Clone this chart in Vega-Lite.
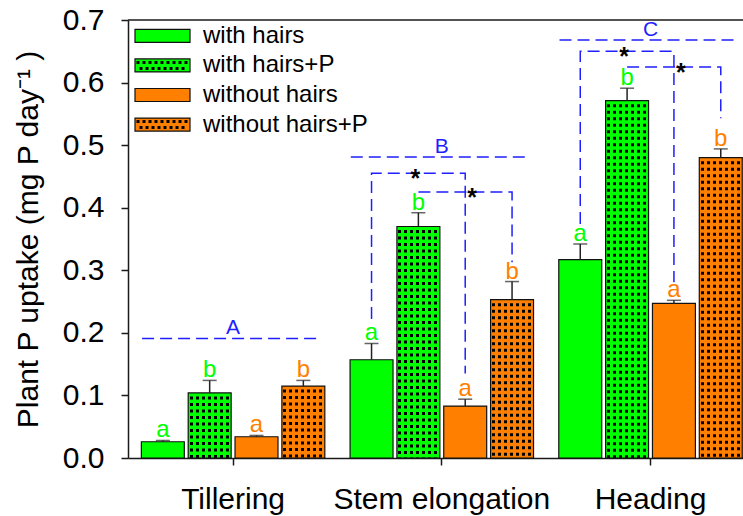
{
  "$schema": "https://vega.github.io/schema/vega-lite/v6.json",
  "autosize": {"type": "none"},
  "width": 615,
  "height": 438,
  "padding": {"left": 128, "top": 20, "right": 0, "bottom": 58},
  "background": "white",
  "config": {
    "font": "Liberation Sans",
    "view": {"stroke": null},
    "axis": {"labelFont": "Liberation Sans", "titleFont": "Liberation Sans", "labelColor": "#000", "titleColor": "#000", "domainColor": "#1a1a1a", "tickColor": "#1a1a1a", "domainWidth": 1.5, "tickWidth": 1.5, "grid": false},
    "legend": {"labelFont": "Liberation Sans"},
    "text": {"font": "Liberation Sans"}
  },
  "datasets": {
    "bars": [
      {"group": "Tillering", "treatment": "with hairs", "value": 0.026, "upper": 0.028, "letter": "a"},
      {"group": "Tillering", "treatment": "with hairs+P", "value": 0.104, "upper": 0.124, "letter": "b"},
      {"group": "Tillering", "treatment": "without hairs", "value": 0.034, "upper": 0.036, "letter": "a"},
      {"group": "Tillering", "treatment": "without hairs+P", "value": 0.115, "upper": 0.124, "letter": "b"},
      {"group": "Stem elongation", "treatment": "with hairs", "value": 0.157, "upper": 0.183, "letter": "a"},
      {"group": "Stem elongation", "treatment": "with hairs+P", "value": 0.370, "upper": 0.392, "letter": "b"},
      {"group": "Stem elongation", "treatment": "without hairs", "value": 0.083, "upper": 0.094, "letter": "a"},
      {"group": "Stem elongation", "treatment": "without hairs+P", "value": 0.253, "upper": 0.282, "letter": "b"},
      {"group": "Heading", "treatment": "with hairs", "value": 0.317, "upper": 0.342, "letter": "a"},
      {"group": "Heading", "treatment": "with hairs+P", "value": 0.571, "upper": 0.591, "letter": "b"},
      {"group": "Heading", "treatment": "without hairs", "value": 0.247, "upper": 0.252, "letter": "a"},
      {"group": "Heading", "treatment": "without hairs+P", "value": 0.480, "upper": 0.494, "letter": "b"}
    ],
    "sig": [
      {"group": "Tillering", "level": 0.191, "label": "A"},
      {"group": "Stem elongation", "level": 0.481, "label": "B"},
      {"group": "Heading", "level": 0.668, "label": "C"}
    ],
    "brackets": [
      {"id": "S1", "group": "Stem elongation", "treatment": "with hairs", "yv": 0.222, "k": 1},
      {"id": "S1", "group": "Stem elongation", "treatment": "with hairs", "yv": 0.455, "k": 2},
      {"id": "S1", "group": "Stem elongation", "treatment": "without hairs", "yv": 0.455, "k": 3},
      {"id": "S1", "group": "Stem elongation", "treatment": "without hairs", "yv": 0.135, "k": 4},
      {"id": "S2", "group": "Stem elongation", "treatment": "with hairs+P", "yv": 0.425, "k": 1},
      {"id": "S2", "group": "Stem elongation", "treatment": "without hairs+P", "yv": 0.425, "k": 2},
      {"id": "S2", "group": "Stem elongation", "treatment": "without hairs+P", "yv": 0.313, "k": 3},
      {"id": "H1", "group": "Heading", "treatment": "with hairs", "yv": 0.374, "k": 1},
      {"id": "H1", "group": "Heading", "treatment": "with hairs", "yv": 0.650, "k": 2},
      {"id": "H1", "group": "Heading", "treatment": "without hairs", "yv": 0.650, "k": 3},
      {"id": "H1", "group": "Heading", "treatment": "without hairs", "yv": 0.281, "k": 4},
      {"id": "H2", "group": "Heading", "treatment": "with hairs+P", "yv": 0.625, "k": 1},
      {"id": "H2", "group": "Heading", "treatment": "without hairs+P", "yv": 0.625, "k": 2},
      {"id": "H2", "group": "Heading", "treatment": "without hairs+P", "yv": 0.543, "k": 3}
    ],
    "stars": [
      {"id": "1", "group": "Stem elongation", "treatment": "with hairs+P", "yv": 0.455, "s": "*"},
      {"id": "2", "group": "Stem elongation", "treatment": "without hairs", "yv": 0.425, "s": "*"},
      {"id": "1", "group": "Heading", "treatment": "with hairs+P", "yv": 0.650, "s": "*"},
      {"id": "2", "group": "Heading", "treatment": "without hairs", "yv": 0.625, "s": "*"}
    ],
    "legkeys": [{"key": "k1"}, {"key": "k2"}, {"key": "k3"}, {"key": "k4"}]
  },
  "layer": [
    {
      "data": {"name": "bars"},
      "mark": {"type": "bar"},
      "encoding": {
        "x": {"field": "group", "type": "nominal", "sort": null,
          "scale": {"type": "band", "domain": ["Tillering", "Stem elongation", "Heading"], "range": [0, 627.6], "paddingInner": 0.121, "paddingOuter": 0.064},
          "axis": {"title": null, "labelAngle": 0, "labelFontSize": 30, "tickSize": 7, "labelPadding": 19, "labelLimit": 400}},
        "xOffset": {"field": "treatment", "type": "nominal",
          "scale": {"domain": ["with hairs", "with hairs+P", "without hairs", "without hairs+P"], "paddingInner": 0.083, "paddingOuter": 0}},
        "y": {"field": "value", "type": "quantitative",
          "scale": {"domain": [0, 0.7], "nice": false},
          "axis": {"title": "Plant P uptake (mg P day⁻¹ )", "titleFontSize": 30, "titleFontWeight": "normal", "titlePadding": 19, "labelFontSize": 30, "tickSize": 7, "labelPadding": 17, "values": [0, 0.1, 0.2, 0.3, 0.4, 0.5, 0.6, 0.7], "format": ".1f"}},
        "fill": {"field": "treatment", "type": "nominal",
          "scale": {"domain": ["with hairs", "with hairs+P", "without hairs", "without hairs+P"], "range": ["#00ff00", "#00ff00", "#ff8000", "#ff8000"]},
          "legend": {"orient": "none", "legendX": 21.5, "legendY": 2.8, "title": null, "symbolType": "M-2.292,-0.542H2.292V0.542H-2.292Z", "symbolSize": 576, "labelFontSize": 24, "labelOffset": 27.5, "rowPadding": 4.6, "padding": 0, "symbolStrokeColor": "#111", "symbolStrokeWidth": 1.2, "zindex": 1, "labelColor": "#000", "labelLimit": 400,
            "encode": {"symbols": {"update": {"stroke": {"value": "#111"}, "strokeWidth": {"value": 1.2}}}}},
          "condition": [
            {"test": "datum.treatment === 'with hairs+P'", "value": {"gradient": "linear", "x1": 0, "y1": 0, "x2": 1, "y2": 0, "stops": [
              {"offset": 0, "color": "#00ff00"}, {"offset": 0.0349, "color": "#00ff00"}, {"offset": 0.0349, "color": "#000000"}, {"offset": 0.1048, "color": "#000000"},
              {"offset": 0.1048, "color": "#00ff00"}, {"offset": 0.1746, "color": "#00ff00"}, {"offset": 0.1746, "color": "#000000"}, {"offset": 0.2445, "color": "#000000"},
              {"offset": 0.2445, "color": "#00ff00"}, {"offset": 0.3143, "color": "#00ff00"}, {"offset": 0.3143, "color": "#000000"}, {"offset": 0.3842, "color": "#000000"},
              {"offset": 0.3842, "color": "#00ff00"}, {"offset": 0.4540, "color": "#00ff00"}, {"offset": 0.4540, "color": "#000000"}, {"offset": 0.5239, "color": "#000000"},
              {"offset": 0.5239, "color": "#00ff00"}, {"offset": 0.5937, "color": "#00ff00"}, {"offset": 0.5937, "color": "#000000"}, {"offset": 0.6636, "color": "#000000"},
              {"offset": 0.6636, "color": "#00ff00"}, {"offset": 0.7334, "color": "#00ff00"}, {"offset": 0.7334, "color": "#000000"}, {"offset": 0.8033, "color": "#000000"},
              {"offset": 0.8033, "color": "#00ff00"}, {"offset": 0.8731, "color": "#00ff00"}, {"offset": 0.8731, "color": "#000000"}, {"offset": 0.9430, "color": "#000000"},
              {"offset": 0.9430, "color": "#00ff00"}, {"offset": 1, "color": "#00ff00"}]}},
            {"test": "datum.treatment === 'without hairs+P'", "value": {"gradient": "linear", "x1": 0, "y1": 0, "x2": 1, "y2": 0, "stops": [
              {"offset": 0, "color": "#ff8000"}, {"offset": 0.0349, "color": "#ff8000"}, {"offset": 0.0349, "color": "#000000"}, {"offset": 0.1048, "color": "#000000"},
              {"offset": 0.1048, "color": "#ff8000"}, {"offset": 0.1746, "color": "#ff8000"}, {"offset": 0.1746, "color": "#000000"}, {"offset": 0.2445, "color": "#000000"},
              {"offset": 0.2445, "color": "#ff8000"}, {"offset": 0.3143, "color": "#ff8000"}, {"offset": 0.3143, "color": "#000000"}, {"offset": 0.3842, "color": "#000000"},
              {"offset": 0.3842, "color": "#ff8000"}, {"offset": 0.4540, "color": "#ff8000"}, {"offset": 0.4540, "color": "#000000"}, {"offset": 0.5239, "color": "#000000"},
              {"offset": 0.5239, "color": "#ff8000"}, {"offset": 0.5937, "color": "#ff8000"}, {"offset": 0.5937, "color": "#000000"}, {"offset": 0.6636, "color": "#000000"},
              {"offset": 0.6636, "color": "#ff8000"}, {"offset": 0.7334, "color": "#ff8000"}, {"offset": 0.7334, "color": "#000000"}, {"offset": 0.8033, "color": "#000000"},
              {"offset": 0.8033, "color": "#ff8000"}, {"offset": 0.8731, "color": "#ff8000"}, {"offset": 0.8731, "color": "#000000"}, {"offset": 0.9430, "color": "#000000"},
              {"offset": 0.9430, "color": "#ff8000"}, {"offset": 1, "color": "#ff8000"}]}}
          ]
        }
      }
    },
    {
      "data": {"name": "bars"},
      "transform": [{"filter": "indexof(datum.treatment, '+P') >= 0"}],
      "mark": {"type": "rule", "strokeWidth": 41, "strokeDash": [3.5, 3], "strokeCap": "butt"},
      "encoding": {
        "x": {"field": "group", "type": "nominal"},
        "xOffset": {"field": "treatment", "type": "nominal"},
        "y": {"field": "value", "type": "quantitative"},
        "y2": {"datum": 0},
        "stroke": {"field": "treatment", "type": "nominal", "scale": {"domain": ["with hairs+P", "without hairs+P"], "range": ["#00ff00", "#ff8000"]}, "legend": null}
      }
    },
    {
      "data": {"name": "bars"},
      "mark": {"type": "bar", "fillOpacity": 0, "stroke": "#111", "strokeWidth": 1.2},
      "encoding": {
        "x": {"field": "group", "type": "nominal"},
        "xOffset": {"field": "treatment", "type": "nominal"},
        "y": {"field": "value", "type": "quantitative"}
      }
    },
    {
      "data": {"name": "bars"},
      "mark": {"type": "rule", "color": "#222", "strokeWidth": 1.5},
      "encoding": {
        "x": {"field": "group", "type": "nominal"},
        "xOffset": {"field": "treatment", "type": "nominal"},
        "y": {"field": "value", "type": "quantitative"},
        "y2": {"field": "upper"}
      }
    },
    {
      "data": {"name": "bars"},
      "mark": {"type": "tick", "orient": "horizontal", "size": 14, "thickness": 1.5, "color": "#222"},
      "encoding": {
        "x": {"field": "group", "type": "nominal"},
        "xOffset": {"field": "treatment", "type": "nominal"},
        "y": {"field": "upper", "type": "quantitative"}
      }
    },
    {
      "data": {"name": "bars"},
      "mark": {"type": "text", "fontSize": 24, "baseline": "alphabetic", "dy": -3},
      "encoding": {
        "x": {"field": "group", "type": "nominal"},
        "xOffset": {"field": "treatment", "type": "nominal"},
        "y": {"field": "upper", "type": "quantitative"},
        "text": {"field": "letter"},
        "color": {"field": "treatment", "type": "nominal", "scale": {"domain": ["with hairs", "with hairs+P", "without hairs", "without hairs+P"], "range": ["#00ff00", "#00ff00", "#ff8000", "#ff8000"]}, "legend": null}
      }
    },
    {
      "data": {"values": [{}]},
      "mark": {"type": "rule", "color": "#1a1a1a", "strokeWidth": 1.5},
      "encoding": {"y": {"datum": 0.7, "type": "quantitative"}}
    },
    {
      "data": {"name": "sig"},
      "mark": {"type": "rule", "xOffset": -91, "x2Offset": 89, "strokeDash": [12, 6], "color": "#1f1fff", "strokeWidth": 1.5},
      "encoding": {
        "x": {"field": "group", "type": "nominal"},
        "x2": {"field": "group"},
        "y": {"field": "level", "type": "quantitative"}
      }
    },
    {
      "data": {"name": "sig"},
      "mark": {"type": "text", "fontSize": 21, "baseline": "alphabetic", "dy": -4, "color": "#1f1fff"},
      "encoding": {
        "x": {"field": "group", "type": "nominal"},
        "y": {"field": "level", "type": "quantitative"},
        "text": {"field": "label"}
      }
    },
    {
      "data": {"name": "brackets"},
      "mark": {"type": "line", "strokeDash": [12, 6], "color": "#1f1fff", "strokeWidth": 1.5},
      "encoding": {
        "x": {"field": "group", "type": "nominal"},
        "xOffset": {"field": "treatment", "type": "nominal"},
        "y": {"field": "yv", "type": "quantitative"},
        "detail": {"field": "id"},
        "order": {"field": "k", "type": "quantitative"}
      }
    },
    {
      "data": {"name": "stars"},
      "transform": [{"filter": "datum.id === '1'"}],
      "mark": {"type": "text", "fontSize": 25, "fontWeight": "bold", "baseline": "alphabetic", "dy": 14, "dx": -3, "color": "#000"},
      "encoding": {
        "x": {"field": "group", "type": "nominal"},
        "xOffset": {"field": "treatment", "type": "nominal"},
        "y": {"field": "yv", "type": "quantitative"},
        "text": {"field": "s"}
      }
    },
    {
      "data": {"name": "stars"},
      "transform": [{"filter": "datum.id === '2'"}],
      "mark": {"type": "text", "fontSize": 25, "fontWeight": "bold", "baseline": "alphabetic", "dy": 14, "dx": 7, "color": "#000"},
      "encoding": {
        "x": {"field": "group", "type": "nominal"},
        "xOffset": {"field": "treatment", "type": "nominal"},
        "y": {"field": "yv", "type": "quantitative"},
        "text": {"field": "s"}
      }
    },
    {
      "data": {"name": "legkeys"},
      "transform": [{"filter": "false"}],
      "mark": {"type": "point", "filled": true, "color": "#000"},
      "encoding": {
        "shape": {"field": "key", "type": "nominal",
          "scale": {"domain": ["k1", "k2", "k3", "k4"], "range": [
            "M0,0Z",
            "M-2.166,-0.376h0.25v0.25h-0.25zM-1.666,-0.376h0.25v0.25h-0.25zM-1.166,-0.376h0.25v0.25h-0.25zM-0.667,-0.376h0.25v0.25h-0.25zM-0.167,-0.376h0.25v0.25h-0.25zM0.332,-0.376h0.25v0.25h-0.25zM0.834,-0.376h0.25v0.25h-0.25zM1.334,-0.376h0.25v0.25h-0.25zM1.833,-0.376h0.25v0.25h-0.25zM-1.916,0.126h0.25v0.25h-0.25zM-1.416,0.126h0.25v0.25h-0.25zM-0.917,0.126h0.25v0.25h-0.25zM-0.417,0.126h0.25v0.25h-0.25zM0.083,0.126h0.25v0.25h-0.25zM0.584,0.126h0.25v0.25h-0.25zM1.084,0.126h0.25v0.25h-0.25zM1.584,0.126h0.25v0.25h-0.25z",
            "M0,0Z",
            "M-2.166,-0.376h0.25v0.25h-0.25zM-1.666,-0.376h0.25v0.25h-0.25zM-1.166,-0.376h0.25v0.25h-0.25zM-0.667,-0.376h0.25v0.25h-0.25zM-0.167,-0.376h0.25v0.25h-0.25zM0.332,-0.376h0.25v0.25h-0.25zM0.834,-0.376h0.25v0.25h-0.25zM1.334,-0.376h0.25v0.25h-0.25zM1.833,-0.376h0.25v0.25h-0.25zM-1.916,0.126h0.25v0.25h-0.25zM-1.416,0.126h0.25v0.25h-0.25zM-0.917,0.126h0.25v0.25h-0.25zM-0.417,0.126h0.25v0.25h-0.25zM0.083,0.126h0.25v0.25h-0.25zM0.584,0.126h0.25v0.25h-0.25zM1.084,0.126h0.25v0.25h-0.25zM1.584,0.126h0.25v0.25h-0.25z"
          ]},
          "legend": {"orient": "none", "legendX": 21.5, "legendY": 2.8, "title": null, "symbolSize": 576, "labelFontSize": 24, "labelOffset": 27.5, "rowPadding": 4.6, "padding": 0, "labelColor": "transparent", "symbolFillColor": "#000", "symbolStrokeColor": "transparent", "symbolStrokeWidth": 1.2, "symbolOpacity": 1, "zindex": 2, "labelLimit": 400,
            "labelExpr": "' '",
            "encode": {"symbols": {"update": {"fill": {"value": "#000"}, "opacity": {"value": 1}, "stroke": {"value": "transparent"}, "strokeWidth": {"value": 1.2}}}}}
        }
      }
    }
  ]
}
